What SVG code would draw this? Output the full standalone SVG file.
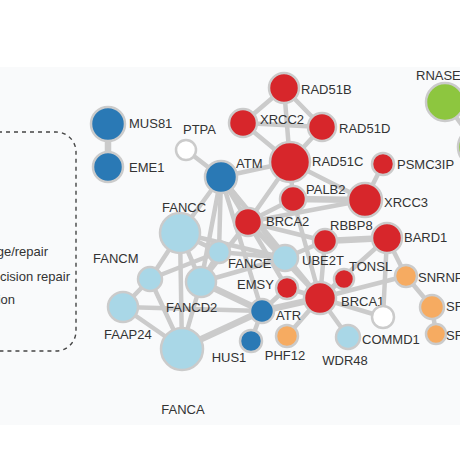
<svg xmlns="http://www.w3.org/2000/svg" width="460" height="460" viewBox="0 0 460 460">
<style>
.e{stroke:#cbcbcb;stroke-width:4.5;stroke-linecap:round;fill:none}
.t{stroke-width:6.5}
.n{stroke:#cbcbcb;stroke-width:2.5}
.red{fill:#d7262b}.blue{fill:#2a79b5}.lb{fill:#a9d7e7}.or{fill:#f6ab61}.gr{fill:#8dc63f}.op{fill:#ffffff}
text{font-family:"Liberation Sans",Arial,sans-serif;font-size:13px;fill:#333333}
</style>
<rect x="0" y="0" width="460" height="460" fill="#ffffff"/>
<rect x="0" y="67" width="460" height="358" fill="#f9fafb"/>
<g id="legend">
<path d="M-10,132 H56 A20,20 0 0 1 76,152 V331 A20,20 0 0 1 56,351 H-10" fill="none" stroke="#444" stroke-width="1.4" stroke-dasharray="4,4"/>
<text x="48" y="256" text-anchor="end">ge/repair</text>
<text x="70" y="281" text-anchor="end">cision repair</text>
<text x="15" y="304" text-anchor="end">ion</text>
</g>
<g id="connectors">
<line class="e t" x1="108" y1="124" x2="108" y2="167"/>
<line class="e" x1="186" y1="150" x2="221" y2="177"/>
<line class="e" x1="284" y1="88" x2="243" y2="123"/>
<line class="e" x1="284" y1="88" x2="322" y2="127"/>
<line class="e" x1="284" y1="88" x2="290" y2="162"/>
<line class="e" x1="243" y1="123" x2="322" y2="127"/>
<line class="e" x1="243" y1="123" x2="290" y2="162"/>
<line class="e" x1="322" y1="127" x2="290" y2="162"/>
<line class="e" x1="290" y1="162" x2="365" y2="200"/>
<line class="e" x1="290" y1="162" x2="293" y2="199"/>
<line class="e" x1="290" y1="162" x2="248" y2="222"/>
<line class="e" x1="290" y1="162" x2="221" y2="177"/>
<line class="e" x1="383" y1="164" x2="365" y2="200"/>
<line class="e t" x1="293" y1="199" x2="365" y2="200"/>
<line class="e" x1="248" y1="222" x2="365" y2="200"/>
<line class="e" x1="293" y1="199" x2="248" y2="222"/>
<line class="e" x1="293" y1="199" x2="320" y2="298"/>
<line class="e" x1="221" y1="177" x2="248" y2="222"/>
<line class="e" x1="221" y1="177" x2="219" y2="252"/>
<line class="e" x1="221" y1="177" x2="201" y2="282"/>
<line class="e" x1="221" y1="177" x2="285" y2="258"/>
<line class="e" x1="221" y1="177" x2="320" y2="298"/>
<line class="e" x1="221" y1="177" x2="262" y2="311"/>
<line class="e" x1="221" y1="177" x2="180" y2="233"/>
<line class="e t" x1="325" y1="241" x2="387" y2="238"/>
<line class="e" x1="325" y1="241" x2="320" y2="298"/>
<line class="e" x1="325" y1="241" x2="248" y2="222"/>
<line class="e" x1="387" y1="238" x2="320" y2="298"/>
<line class="e" x1="387" y1="238" x2="406" y2="276"/>
<line class="e" x1="387" y1="238" x2="383" y2="317"/>
<line class="e" x1="320" y1="298" x2="406" y2="276"/>
<line class="e" x1="406" y1="276" x2="432" y2="307"/>
<line class="e" x1="432" y1="307" x2="436" y2="334"/>
<line class="e" x1="320" y1="298" x2="383" y2="317"/>
<line class="e" x1="320" y1="298" x2="348" y2="337"/>
<line class="e" x1="320" y1="298" x2="344" y2="279"/>
<line class="e" x1="320" y1="298" x2="287" y2="336"/>
<line class="e" x1="320" y1="298" x2="287" y2="288"/>
<line class="e" x1="320" y1="298" x2="285" y2="258"/>
<line class="e t" x1="320" y1="298" x2="262" y2="311"/>
<line class="e" x1="320" y1="298" x2="248" y2="222"/>
<line class="e" x1="287" y1="288" x2="248" y2="222"/>
<line class="e" x1="285" y1="258" x2="248" y2="222"/>
<line class="e" x1="285" y1="258" x2="325" y2="241"/>
<line class="e" x1="285" y1="258" x2="219" y2="252"/>
<line class="e" x1="285" y1="258" x2="201" y2="282"/>
<line class="e" x1="248" y1="222" x2="201" y2="282"/>
<line class="e" x1="180" y1="233" x2="219" y2="252"/>
<line class="e" x1="180" y1="233" x2="201" y2="282"/>
<line class="e" x1="180" y1="233" x2="150" y2="279"/>
<line class="e" x1="180" y1="233" x2="182" y2="348"/>
<line class="e" x1="180" y1="233" x2="285" y2="258"/>
<line class="e" x1="219" y1="252" x2="201" y2="282"/>
<line class="e" x1="150" y1="279" x2="219" y2="252"/>
<line class="e" x1="150" y1="279" x2="123" y2="307"/>
<line class="e" x1="150" y1="279" x2="182" y2="348"/>
<line class="e" x1="123" y1="307" x2="182" y2="348"/>
<line class="e" x1="123" y1="307" x2="262" y2="311"/>
<line class="e" x1="201" y1="282" x2="182" y2="348"/>
<line class="e t" x1="201" y1="282" x2="262" y2="311"/>
<line class="e t" x1="182" y1="348" x2="262" y2="311"/>
<line class="e" x1="262" y1="311" x2="251" y2="341"/>
<line class="e" x1="262" y1="311" x2="287" y2="288"/>
<line class="e" x1="445" y1="102" x2="478" y2="147"/>
</g>
<g id="MUS81"><circle class="n blue" cx="108" cy="124" r="17"/><text x="129" y="128">MUS81</text></g>
<g id="EME1"><circle class="n blue" cx="108" cy="167" r="15"/><text x="129" y="172">EME1</text></g>
<g id="PTPA"><circle class="n op" cx="186" cy="150" r="10"/><text x="183" y="134">PTPA</text></g>
<g id="ATM"><circle class="n blue" cx="221" cy="177" r="16"/><text x="236" y="168">ATM</text></g>
<g id="RAD51B"><circle class="n red" cx="284" cy="88" r="15"/><text x="301" y="94">RAD51B</text></g>
<g id="XRCC2"><circle class="n red" cx="243" cy="123" r="14"/><text x="260" y="124">XRCC2</text></g>
<g id="RAD51D"><circle class="n red" cx="322" cy="127" r="14"/><text x="339" y="133">RAD51D</text></g>
<g id="RAD51C"><circle class="n red" cx="290" cy="162" r="20"/><text x="312" y="166">RAD51C</text></g>
<g id="PSMC3IP"><circle class="n red" cx="383" cy="164" r="11"/><text x="397" y="169">PSMC3IP</text></g>
<g id="XRCC3"><circle class="n red" cx="365" cy="200" r="17"/><text x="384" y="207">XRCC3</text></g>
<g id="PALB2"><circle class="n red" cx="293" cy="199" r="13"/><text x="306" y="194">PALB2</text></g>
<g id="BRCA2"><circle class="n red" cx="248" cy="222" r="14"/><text x="266" y="226">BRCA2</text></g>
<g id="RBBP8"><circle class="n red" cx="325" cy="241" r="12"/><text x="330" y="230">RBBP8</text></g>
<g id="BARD1"><circle class="n red" cx="387" cy="238" r="15"/><text x="404" y="242">BARD1</text></g>
<g id="TONSL"><circle class="n red" cx="344" cy="279" r="10"/><text x="349" y="271">TONSL</text></g>
<g id="BRCA1"><circle class="n red" cx="320" cy="298" r="16"/><text x="341" y="306">BRCA1</text></g>
<g id="EMSY"><circle class="n red" cx="287" cy="288" r="11"/><text x="237" y="289">EMSY</text></g>
<g id="UBE2T"><circle class="n lb" cx="285" cy="258" r="13"/><text x="302" y="265">UBE2T</text></g>
<g id="FANCC"><circle class="n lb" cx="180" cy="233" r="20"/><text x="162" y="212">FANCC</text></g>
<g id="FANCE"><circle class="n lb" cx="219" cy="252" r="11"/><text x="228" y="268">FANCE</text></g>
<g id="FANCD2"><circle class="n lb" cx="201" cy="282" r="15"/><text x="166" y="312">FANCD2</text></g>
<g id="FANCM"><circle class="n lb" cx="150" cy="279" r="12"/><text x="93" y="263">FANCM</text></g>
<g id="FAAP24"><circle class="n lb" cx="123" cy="307" r="15"/><text x="104" y="339">FAAP24</text></g>
<g id="FANCA"><circle class="n lb" cx="182" cy="349" r="21"/><text x="183" y="414" text-anchor="middle">FANCA</text></g>
<g id="ATR"><circle class="n blue" cx="262" cy="311" r="12"/><text x="276" y="320">ATR</text></g>
<g id="HUS1"><circle class="n blue" cx="251" cy="341" r="11"/><text x="229" y="362" text-anchor="middle">HUS1</text></g>
<g id="PHF12"><circle class="n or" cx="287" cy="336" r="11"/><text x="285" y="360" text-anchor="middle">PHF12</text></g>
<g id="WDR48"><circle class="n lb" cx="348" cy="337" r="12"/><text x="345" y="365" text-anchor="middle">WDR48</text></g>
<g id="COMMD1"><circle class="n op" cx="383" cy="317" r="11"/><text x="362" y="344">COMMD1</text></g>
<g id="SNRNP"><circle class="n or" cx="406" cy="276" r="11"/><text x="418" y="282">SNRNP</text></g>
<g id="SF_1"><circle class="n or" cx="432" cy="307" r="12"/><text x="446" y="311">SF</text></g>
<g id="SF_2"><circle class="n or" cx="436" cy="334" r="10"/><text x="446" y="340">SF</text></g>
<g id="RNASE"><circle class="n gr" cx="445" cy="102" r="19"/><text x="416" y="80">RNASE</text></g>
<g id="GREEN2"><circle class="n gr" cx="478" cy="147" r="20"/></g>
</svg>
